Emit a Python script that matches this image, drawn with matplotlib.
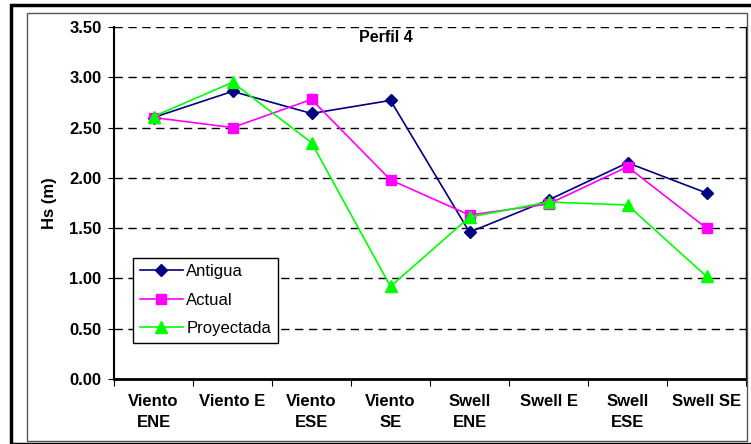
import matplotlib
matplotlib.use("Agg")
from matplotlib import pyplot as plt
from matplotlib.patches import Rectangle

plt.rcParams['font.family'] = ['Liberation Sans', 'DejaVu Sans']

categorias = ["Viento\nENE", "Viento E", "Viento\nESE", "Viento\nSE",
              "Swell\nENE", "Swell E", "Swell\nESE", "Swell SE"]
antigua = [2.60, 2.86, 2.64, 2.77, 1.46, 1.78, 2.15, 1.85]
actual = [2.60, 2.50, 2.78, 1.98, 1.63, 1.74, 2.11, 1.50]
proyectada = [2.61, 2.95, 2.35, 0.92, 1.61, 1.76, 1.73, 1.02]

W, H = 751, 444
fig = plt.figure(figsize=(W / 100, H / 100), dpi=100)

# marcos exteriores
fig.patches.append(Rectangle((11 / W, 0), (W + 10) / W, (H - 5) / H, transform=fig.transFigure,
                             fill=False, edgecolor='black', linewidth=2.5))
fig.patches.append(Rectangle((27 / W, 3 / H), (747 - 27) / W, (441 - 13) / H,
                             transform=fig.transFigure, fill=False,
                             edgecolor='#555555', linewidth=1))

ax = fig.add_axes([114 / W, (H - 379) / H, (746 - 114) / W, (379 - 27) / H])

x = list(range(len(categorias)))
ax.plot(x, antigua, color='#000080', marker='D', markersize=6.5, linewidth=1.2, label='Antigua')
ax.plot(x, actual, color='#FF00FF', marker='s', markersize=7, linewidth=1.2, label='Actual')
ax.plot(x, proyectada, color='#00FF00', marker='^', markersize=8.5, linewidth=1.2, label='Proyectada')

yticks = [0, 0.5, 1.0, 1.5, 2.0, 2.5, 3.0, 3.5]
ax.set_xlim(-0.5, 7.5)
ax.set_ylim(0, 3.5)
ax.set_yticks(yticks)
ax.set_yticklabels([f"{v:.2f}" for v in yticks], fontsize=12, fontweight='bold')
ax.set_xticks([i + 0.5 for i in range(-1, 8)])
ax.set_xticklabels([])
ax.set_xticks(x, minor=True)
ax.set_xticklabels(categorias, minor=True, fontsize=12, fontweight='bold', linespacing=1.45)
ax.tick_params(axis='x', which='minor', length=0, pad=11)
ax.tick_params(axis='x', which='major', length=5, direction='out')
ax.tick_params(axis='y', length=4, direction='out', pad=5)

ax.grid(axis='y', linestyle=(0, (6, 4)), color='black', linewidth=1)
ax.spines['top'].set_visible(False)
ax.spines['left'].set_linewidth(1.5)
ax.spines['bottom'].set_linewidth(2)
ax.spines['right'].set_linewidth(1)

ax.set_ylabel('Hs (m)', fontsize=12, fontweight='bold', labelpad=9)
ax.text(0.43, 0.97, 'Perfil 4', transform=ax.transAxes, ha='center', va='center',
        fontsize=11.5, fontweight='bold')

leg = ax.legend(loc='upper left', bbox_to_anchor=(0.03, 0.345), fontsize=12,
                frameon=True, fancybox=False, edgecolor='black', framealpha=1,
                handlelength=2.6, borderpad=0.4, labelspacing=0.8, handletextpad=0.2,
                borderaxespad=0)
leg.get_frame().set_linewidth(1)

plt.savefig('out.png', dpi=100)
